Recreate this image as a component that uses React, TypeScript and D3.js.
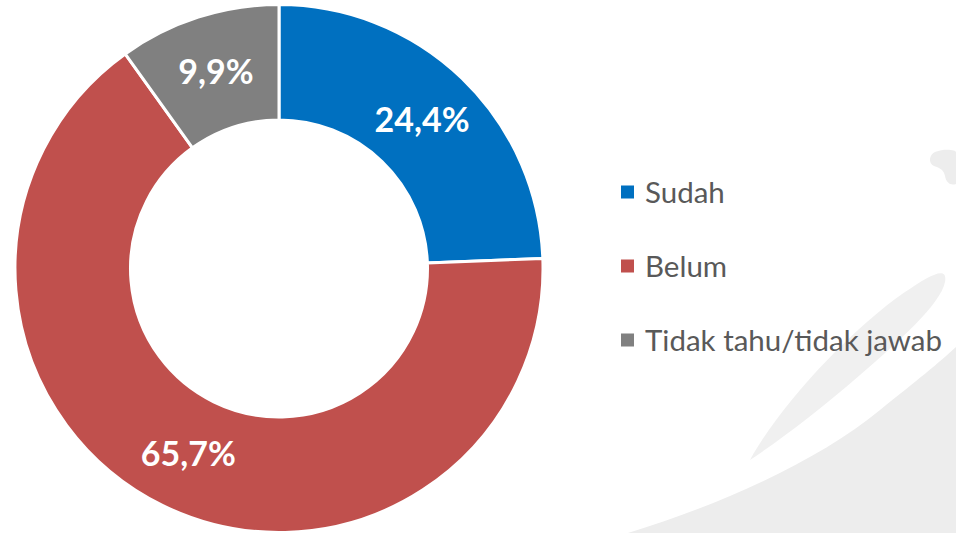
import React from "react";
import * as d3 from "d3";

const categories = ["Sudah", "Belum", "Tidak tahu/tidak jawab"];
const values = [24.4, 65.7, 9.9];
const labels = ["24,4%", "65,7%", "9,9%"];
const colors = ["#0070C0", "#C0504D", "#808080"];

const W = 956;
const H = 533;
const cx = 279;
const cy = 268.5;
const outerR = 264;
const innerR = 148.5;

export default function App() {
  const pie = d3.pie<number>().sort(null).value((d) => d)(values);
  const arc = d3.arc<d3.PieArcDatum<number>>().innerRadius(innerR).outerRadius(outerR);
  const legendY = d3.scalePoint<string>().domain(categories).range([192, 340]);

  return (
    <svg width={W} height={H} style={{ position: "absolute", left: 0, top: 0, background: "#fff" }}>
      <g fill="#ededed">
        <path d="M628,533 C720,505 820,460 880,410 C915,382 940,362 956,347 L956,533 Z" />
        <path
          fill="#f0f0f0"
          d="M750,460 C780,405 850,330 905,292 C930,275 948,265 945,282 C940,305 900,340 860,375 C820,410 780,440 750,460 Z"
        />
        <path d="M935,152 C945,148 956,150 956,152 L956,184 C950,186 946,182 945,176 C944,170 940,168 934,166 C928,163 929,155 935,152 Z" />
      </g>
      <g transform={`translate(${cx},${cy})`}>
        {pie.map((d, i) => (
          <path key={categories[i]} d={arc(d) || ""} fill={colors[i]} stroke="#fff" strokeWidth={3} />
        ))}
        {pie.map((d, i) => {
          const [x, y] = arc.centroid(d);
          return (
            <text
              key={"l" + i}
              x={x}
              y={y}
              dy="0.36em"
              textAnchor="middle"
              fill="#fff"
              fontFamily="Lato, 'Open Sans', sans-serif"
              fontWeight="bold"
              fontSize={34}
            >
              {labels[i]}
            </text>
          );
        })}
      </g>
      <g>
        {categories.map((c, i) => {
          const y = legendY(c) as number;
          return (
            <g key={"lg" + c}>
              <rect x={621} y={y - 6.5} width={13} height={13} fill={colors[i]} />
              <text
                x={645}
                y={y}
                dy="0.36em"
                fill="#595959"
                fontFamily="Lato, 'Open Sans', sans-serif"
                fontSize={29.5}
              >
                {c}
              </text>
            </g>
          );
        })}
      </g>
    </svg>
  );
}
